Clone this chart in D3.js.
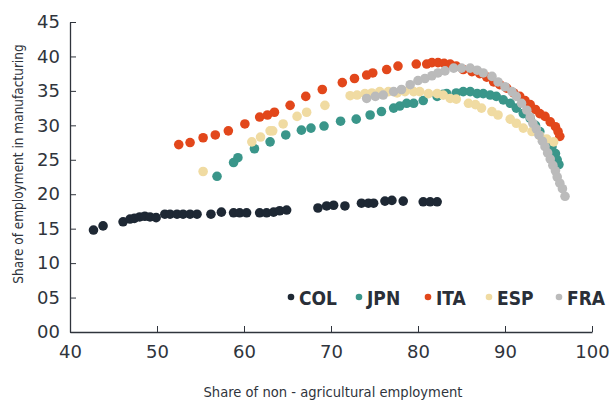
<!DOCTYPE html>
<html>
<head>
<meta charset="utf-8">
<script src="https://cdn.jsdelivr.net/npm/d3@7"></script>
<style>
  html, body { margin: 0; padding: 0; background: #ffffff; }
  svg { display: block; }
</style>
</head>
<body>
<svg id="chart" width="610" height="406"></svg>
<script>
// Share of non-agricultural employment (x) vs share of employment in manufacturing (y)
const countries = ["COL", "JPN", "ITA", "ESP", "FRA"];
const colors = ["#1e2834", "#3a968a", "#e2471b", "#f0dba2", "#bbbbbb"];

const colX = [42.7, 43.8, 46.1, 46.9, 47.4, 48.0, 48.6, 49.2, 49.9, 50.9, 51.5, 52.3, 53.0, 53.8, 54.6, 56.2, 57.4, 58.8, 59.5, 60.3, 61.8, 62.6, 63.4, 64.1, 64.9, 68.5, 69.5, 70.3, 71.6, 73.5, 74.3, 74.9, 76.2, 77.0, 78.3, 80.6, 81.4, 82.2];
const colY = [14.8, 15.4, 16.0, 16.4, 16.5, 16.7, 16.8, 16.7, 16.6, 17.1, 17.1, 17.1, 17.1, 17.1, 17.1, 17.1, 17.4, 17.3, 17.3, 17.3, 17.3, 17.3, 17.4, 17.6, 17.7, 18.0, 18.3, 18.4, 18.3, 18.7, 18.7, 18.7, 19.0, 19.1, 19.0, 18.9, 18.9, 18.9];

const jpnX = [56.9, 58.8, 59.3, 61.2, 63.0, 64.8, 66.6, 67.7, 69.2, 71.1, 72.9, 74.5, 75.8, 77.2, 77.9, 78.7, 79.5, 80.6, 82.2, 82.9, 83.3, 84.4, 85.2, 86.0, 86.8, 87.5, 88.3, 89.0, 89.8, 90.6, 91.3, 92.1, 92.9, 93.5, 94.0, 94.8, 95.4, 95.8, 96.0, 96.2];
const jpnY = [22.6, 24.6, 25.3, 26.6, 27.6, 28.6, 29.3, 29.6, 29.9, 30.6, 30.9, 31.5, 32.0, 32.5, 32.8, 33.2, 33.2, 33.6, 34.2, 34.5, 34.6, 34.7, 34.9, 34.9, 34.6, 34.6, 34.4, 34.2, 33.7, 33.2, 32.5, 31.7, 31.0, 30.0, 29.1, 27.9, 26.9, 25.9, 25.0, 24.3];

const itaX = [52.5, 53.8, 55.3, 56.7, 58.2, 60.1, 61.8, 62.7, 63.5, 65.3, 67.1, 69.0, 71.3, 72.7, 74.1, 74.8, 76.4, 77.7, 79.8, 81.0, 81.6, 82.3, 83.0, 83.7, 84.4, 85.2, 86.2, 87.1, 87.9, 88.7, 89.4, 90.2, 91.0, 91.7, 92.3, 92.9, 93.5, 94.0, 94.6, 95.2, 95.8, 96.1, 96.3];
const itaY = [27.2, 27.5, 28.2, 28.6, 29.2, 30.2, 31.2, 31.5, 31.9, 32.9, 34.2, 35.2, 36.2, 36.8, 37.3, 37.6, 38.1, 38.6, 38.9, 38.9, 39.1, 39.1, 39.0, 38.9, 38.6, 38.1, 37.8, 37.5, 37.0, 36.3, 35.9, 35.4, 34.7, 34.2, 33.6, 33.0, 32.3, 31.7, 31.3, 30.5, 29.8, 29.1, 28.4];

const espX = [55.3, 60.9, 61.9, 63.0, 63.3, 64.5, 66.1, 67.2, 69.3, 72.2, 73.0, 73.9, 74.7, 75.6, 76.6, 77.6, 78.5, 79.5, 80.2, 81.2, 82.2, 82.9, 83.7, 84.4, 85.8, 86.6, 87.3, 88.5, 89.2, 90.6, 91.3, 92.1, 93.1, 94.0, 94.8, 95.6];
const espY = [23.3, 27.6, 28.3, 29.2, 29.2, 30.2, 31.3, 31.9, 32.9, 34.3, 34.4, 34.6, 34.7, 34.9, 34.9, 34.7, 34.9, 34.9, 34.9, 34.6, 34.6, 34.4, 33.9, 33.8, 33.2, 33.0, 32.5, 32.0, 31.5, 30.9, 30.3, 29.6, 29.1, 28.5, 28.0, 27.6];

const fraX = [74.1, 75.1, 76.0, 77.2, 78.1, 79.1, 80.0, 80.8, 81.6, 82.3, 83.1, 84.1, 85.0, 86.0, 86.8, 87.5, 88.5, 89.2, 90.0, 90.8, 91.3, 91.9, 92.5, 92.9, 93.2, 93.6, 93.9, 94.3, 94.6, 94.9, 95.2, 95.5, 95.8, 96.0, 96.3, 96.6, 96.9];
const fraY = [33.9, 34.2, 34.4, 34.9, 35.2, 35.9, 36.5, 36.8, 37.2, 37.6, 37.9, 38.3, 38.3, 38.3, 38.0, 37.6, 37.1, 36.3, 35.6, 34.9, 34.2, 33.2, 32.2, 31.2, 30.3, 29.5, 28.6, 27.7, 26.9, 26.0, 25.1, 24.2, 23.4, 22.5, 21.6, 20.8, 19.7];

const xTicks = [40, 50, 60, 70, 80, 90, 100];
const yTicks = [0, 5, 10, 15, 20, 25, 30, 35, 40, 45];

const seriesX = [colX, jpnX, itaX, espX, fraX];
const seriesY = [colY, jpnY, itaY, espY, fraY];

const svg = d3.select("#chart");
const x = d3.scaleLinear().domain([40, 100]).range([70, 592]);
const y = d3.scaleLinear().domain([0, 45]).range([332, 22]);

const tickFont = "'DejaVu Sans', sans-serif";
const titleFont = "'DejaVu Sans Condensed', 'DejaVu Sans', sans-serif";
const ink = "#2f343c";

// y axis
const gy = svg.append("g")
  .attr("transform", `translate(${x(40)},0)`)
  .call(d3.axisLeft(y).tickValues(yTicks).tickSize(-6).tickSizeOuter(0)
    .tickPadding(10).tickFormat(d3.format("02d")));

// x axis
const gx = svg.append("g")
  .attr("transform", `translate(0,${y(0)})`)
  .call(d3.axisBottom(x).tickValues(xTicks).tickSize(-6).tickSizeOuter(0)
    .tickPadding(13).tickFormat(d3.format("d")));

[gx, gy].forEach(g => {
  g.selectAll("path.domain").attr("stroke", ink).attr("stroke-width", 1.3);
  g.selectAll(".tick line").attr("stroke", ink).attr("stroke-width", 1);
  g.selectAll(".tick text").attr("fill", ink)
    .style("font-family", tickFont).style("font-size", "18px");
});

// axis titles
svg.append("text")
  .attr("x", 333).attr("y", 397)
  .attr("text-anchor", "middle")
  .attr("fill", ink)
  .style("font-family", titleFont)
  .style("font-size", "14.6px")
  .text("Share of non - agricultural employment");

svg.append("text")
  .attr("transform", "translate(23,164) rotate(-90)")
  .attr("text-anchor", "middle")
  .attr("fill", ink)
  .style("font-family", titleFont)
  .style("font-size", "13.5px")
  .text("Share of employment in manufacturing");

// scatter points, one group per country
countries.forEach((c, i) => {
  const pts = seriesX[i].map((v, k) => ({ x: v, y: seriesY[i][k] }));
  svg.append("g").attr("class", "series-" + c)
    .selectAll("circle")
    .data(pts)
    .join("circle")
    .attr("cx", d => x(d.x))
    .attr("cy", d => y(d.y))
    .attr("r", 4.8)
    .attr("fill", colors[i]);
});

// legend
const legendX = [291, 359, 428, 489, 559];
const legend = svg.append("g");
countries.forEach((c, i) => {
  legend.append("circle")
    .attr("cx", legendX[i]).attr("cy", 297).attr("r", 3.3)
    .attr("fill", colors[i]);
  legend.append("text")
    .attr("x", legendX[i] + 8).attr("y", 305)
    .attr("fill", "#2a2f38")
    .style("font-family", titleFont)
    .style("font-weight", "bold")
    .style("font-size", "19px")
    .text(c);
});
</script>
</body>
</html>
